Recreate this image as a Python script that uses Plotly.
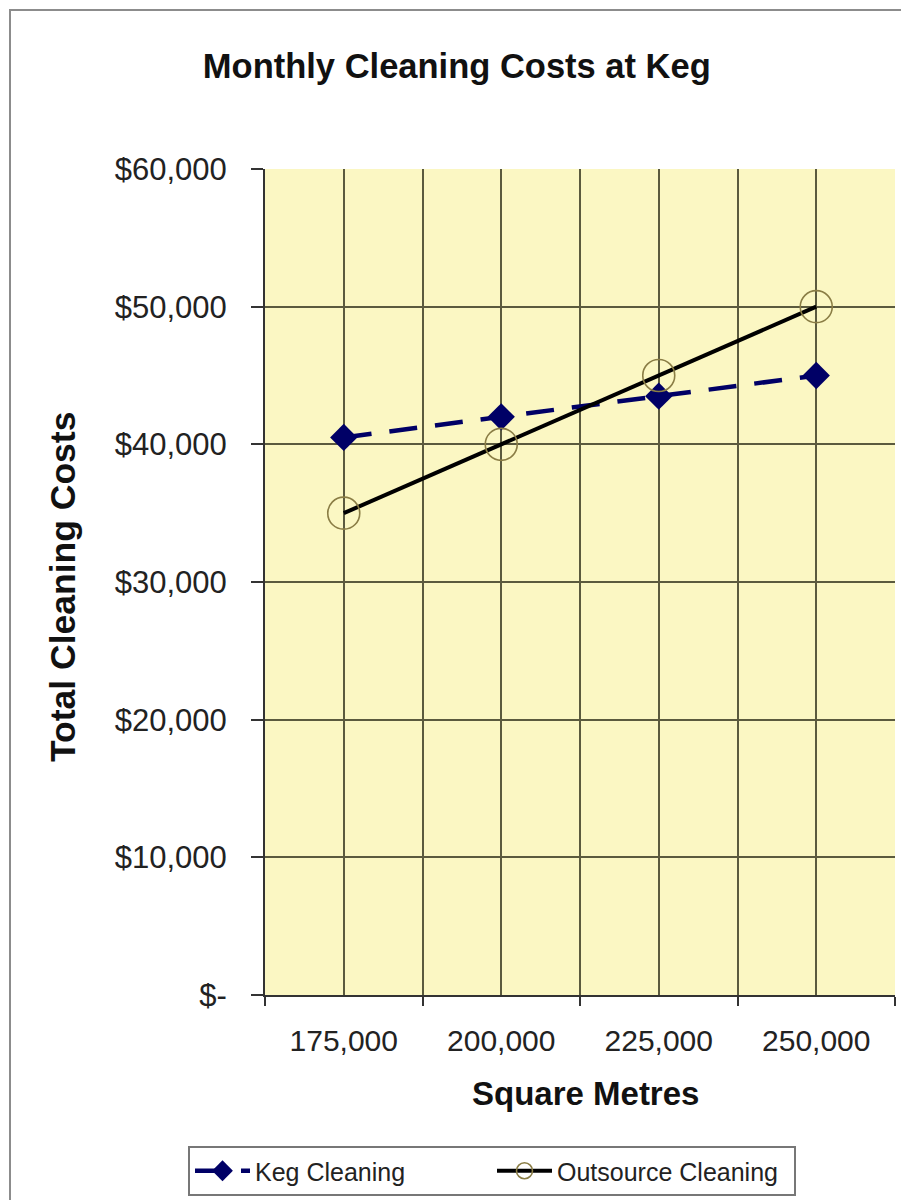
import plotly.graph_objects as go

# Floor area (square metres) and monthly cleaning costs for each option
square_metres = [175000, 200000, 225000, 250000]
x_tick_labels = ["175,000", "200,000", "225,000", "250,000"]
keg_cleaning = [40500, 42000, 43500, 45000]
outsource_cleaning = [35000, 40000, 45000, 50000]

y_tick_values = [0, 10000, 20000, 30000, 40000, 50000, 60000]
y_tick_labels = ["$-", "$10,000", "$20,000", "$30,000", "$40,000", "$50,000", "$60,000"]

# category boundaries half-way between the floor-area steps
step = square_metres[1] - square_metres[0]
boundaries = [square_metres[0] - step / 2 + i * step for i in range(len(square_metres) + 1)]

W, H = 901, 1200
L, R, T, B = 265, 6, 169, 205
plot_w = W - L - R
plot_h = H - T - B


def px_x(p):
    return (p - L) / plot_w


def px_y(p):
    return (H - B - p) / plot_h


FONT = "Liberation Sans, Arial, sans-serif"
GRID = "#5b5a3e"

fig = go.Figure()

fig.add_trace(go.Scatter(
    x=square_metres, y=keg_cleaning, name="Keg Cleaning",
    mode="lines+markers",
    line=dict(color="#000066", width=4.5, dash="28px,18px"),
    marker=dict(symbol="diamond", size=21, color="#000066"),
))
fig.add_trace(go.Scatter(
    x=square_metres, y=outsource_cleaning, name="Outsource Cleaning",
    mode="lines+markers",
    line=dict(color="#000000", width=4),
    marker=dict(symbol="circle-open", size=32, color="#8a7d45",
                line=dict(width=1.6, color="#8a7d45")),
))

fig.update_layout(
    width=W, height=H,
    margin=dict(l=L, r=R, t=T, b=B, autoexpand=False),
    paper_bgcolor="white",
    plot_bgcolor="#fbf7c3",
    font=dict(family=FONT, color="#222222"),
    title=dict(text="<b>Monthly Cleaning Costs at Keg</b>",
               x=0.507, xref="container", xanchor="center",
               y=1 - 66 / H, yref="container", yanchor="middle",
               font=dict(size=34.5, color="#111111", family=FONT)),
    showlegend=True,
    legend=dict(orientation="h", x=px_x(492), xanchor="center",
                y=px_y(1196), yanchor="bottom",
                bordercolor="#777777", borderwidth=2, bgcolor="white",
                font=dict(size=25, color="#222222", family=FONT),
                itemwidth=55, entrywidth=232, entrywidthmode="pixels",
                tracegroupgap=0),
)

fig.update_xaxes(
    range=[boundaries[0], boundaries[-1]],
    tickmode="array", tickvals=square_metres, ticktext=x_tick_labels,
    ticks="", ticklabelstandoff=18,
    tickfont=dict(size=30, color="#222222", family=FONT),
    showgrid=True, gridcolor=GRID, gridwidth=1.8,
    minor=dict(tickmode="array", tickvals=boundaries, ticks="outside",
               ticklen=9, tickwidth=1.8, tickcolor="#333333",
               showgrid=True, gridcolor=GRID, gridwidth=1.8),
    showline=True, linecolor="#333333", linewidth=2,
    zeroline=False, fixedrange=True,
)

fig.update_yaxes(
    range=[0, 60000],
    tickmode="array", tickvals=y_tick_values, ticktext=y_tick_labels,
    ticks="outside", ticklen=12, tickwidth=1.8, tickcolor="#333333",
    ticklabelstandoff=18,
    tickfont=dict(size=31, color="#222222", family=FONT),
    showgrid=True, gridcolor=GRID, gridwidth=1.8,
    showline=True, linecolor="#333333", linewidth=2,
    zeroline=False, fixedrange=True,
)

# axis titles
fig.add_annotation(text="<b>Total Cleaning Costs</b>", xref="paper", yref="paper",
                   x=px_x(63), y=px_y(587), textangle=-90, showarrow=False,
                   xanchor="center", yanchor="middle",
                   font=dict(size=35.5, color="#111111", family=FONT))
fig.add_annotation(text="<b>Square Metres</b>", xref="paper", yref="paper",
                   x=px_x(585), y=px_y(1093), showarrow=False,
                   xanchor="center", yanchor="middle",
                   font=dict(size=33, color="#111111", family=FONT))

# outer chart frame
fig.add_shape(type="rect", xref="paper", yref="paper",
              x0=px_x(10), x1=px_x(910), y0=px_y(1210), y1=px_y(10),
              line=dict(color="#8c8c8c", width=2), fillcolor="rgba(0,0,0,0)",
              layer="below")

fig.write_html("out.html")
